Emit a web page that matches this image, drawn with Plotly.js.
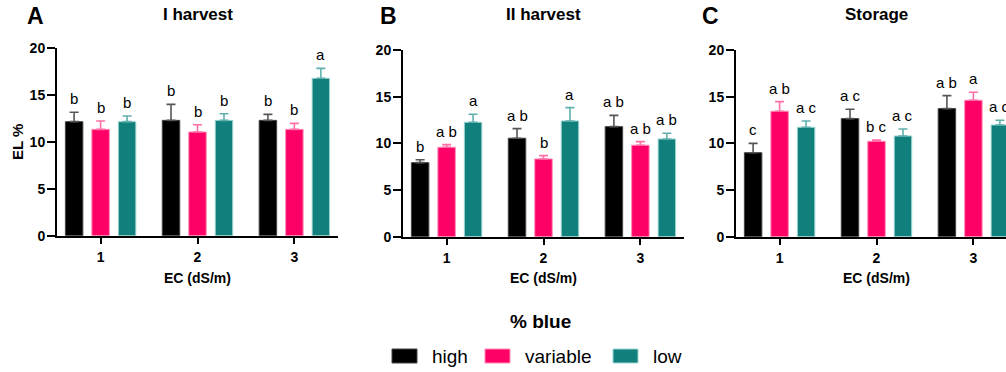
<!DOCTYPE html>
<html>
<head>
<meta charset="utf-8">
<script src="https://cdn.plot.ly/plotly-3.0.1.min.js"></script>
<style>
html,body{margin:0;padding:0;overflow:hidden;background:#fff;width:1006px;height:372px;}
#chart{width:1040px;height:372px;}
</style>
</head>
<body>
<div id="chart"></div>
<script>
// ---------- DATA ----------
const categories = ['1', '2', '3'];
const seriesNames = ['high', 'variable', 'low'];
const panelTitles = ['I harvest', 'II harvest', 'Storage'];
const panelLetters = ['A', 'B', 'C'];

// Panel A: I harvest
const harvestI_high = [12.15, 12.29, 12.29];
const harvestI_highErr = [1.0, 1.7, 0.64];
const harvestI_variable = [11.33, 11.05, 11.33];
const harvestI_variableErr = [0.89, 0.78, 0.64];
const harvestI_low = [12.15, 12.29, 16.77];
const harvestI_lowErr = [0.6, 0.7, 1.06];
const harvestI_highLetters = ['b', 'b', 'b'];
const harvestI_variableLetters = ['b', 'b', 'b'];
const harvestI_lowLetters = ['b', 'b', 'a'];

// Panel B: II harvest
const harvestII_high = [7.93, 10.55, 11.79];
const harvestII_highErr = [0.32, 1.03, 1.21];
const harvestII_variable = [9.58, 8.33, 9.8];
const harvestII_variableErr = [0.28, 0.35, 0.38];
const harvestII_low = [12.26, 12.4, 10.47];
const harvestII_lowErr = [0.86, 1.43, 0.61];
const harvestII_highLetters = ['b', 'a b', 'a b'];
const harvestII_variableLetters = ['a b', 'b', 'a b'];
const harvestII_lowLetters = ['a', 'a', 'a b'];

// Panel C: Storage
const storage_high = [9.0, 12.65, 13.72];
const storage_highErr = [1.0, 1.0, 1.39];
const storage_variable = [13.44, 10.22, 14.62];
const storage_variableErr = [1.03, 0.14, 0.85];
const storage_low = [11.72, 10.79, 11.97];
const storage_lowErr = [0.68, 0.75, 0.5];
const storage_highLetters = ['c', 'a c', 'a b'];
const storage_variableLetters = ['a b', 'b c', 'a'];
const storage_lowLetters = ['a c', 'a c', 'a c'];

// ---------- STYLE ----------
const W = 1040, H = 372;
const FONT = 'Liberation Sans, Arial, Helvetica, sans-serif';
const barColors = ['#000000', '#FF0066', '#11807D'];
const errColors = ['#555555', '#FF6FA6', '#5FB0AD'];
const lineColors = ['#444444', '#FF8CB8', '#9ED6D3'];
const BARGAP = 0.18, GROUPGAP = 0.34;

const panels = [
  {vals: [harvestI_high, harvestI_variable, harvestI_low],
   errs: [harvestI_highErr, harvestI_variableErr, harvestI_lowErr],
   lets: [harvestI_highLetters, harvestI_variableLetters, harvestI_lowLetters],
   px: [57, 338], py: [48, 235.7], letterX: 35, titleX: 197.5},
  {vals: [harvestII_high, harvestII_variable, harvestII_low],
   errs: [harvestII_highErr, harvestII_variableErr, harvestII_lowErr],
   lets: [harvestII_highLetters, harvestII_variableLetters, harvestII_lowLetters],
   px: [403, 684], py: [50, 236.7], letterX: 388, titleX: 543},
  {vals: [storage_high, storage_variable, storage_low],
   errs: [storage_highErr, storage_variableErr, storage_lowErr],
   lets: [storage_highLetters, storage_variableLetters, storage_lowLetters],
   px: [736, 1017], py: [50, 236.7], letterX: 710, titleX: 876}
];

const fx = p => p / W;
const fy = p => 1 - p / H;

const traces = [];
const annotations = [];
const shapes = [];
const layout = {
  width: W, height: H,
  margin: {l: 0, r: 0, t: 0, b: 0},
  paper_bgcolor: '#ffffff', plot_bgcolor: '#ffffff',
  barmode: 'group', bargap: BARGAP, bargroupgap: GROUPGAP,
  showlegend: false,
  font: {family: FONT, color: '#000'},
  annotations: annotations, shapes: shapes
};

panels.forEach((pn, k) => {
  const xa = k === 0 ? 'x' : 'x' + (k + 1);
  const ya = k === 0 ? 'y' : 'y' + (k + 1);
  const xkey = k === 0 ? 'xaxis' : 'xaxis' + (k + 1);
  const ykey = k === 0 ? 'yaxis' : 'yaxis' + (k + 1);
  layout[xkey] = {
    domain: [fx(pn.px[0]), fx(pn.px[1])], anchor: ya,
    type: 'category', range: [-0.45, 2.45], fixedrange: true,
    showline: true, linewidth: 2, linecolor: '#000',
    ticks: 'outside', ticklen: 6, tickwidth: 2, tickcolor: '#000',
    showgrid: false, zeroline: false, ticklabelstandoff: 1,
    tickfont: {family: FONT, size: 14, weight: 'bold', color: '#000'}
  };
  layout[ykey] = {
    domain: [fy(pn.py[1]), fy(pn.py[0])], anchor: xa,
    range: [0, 20], dtick: 5, tick0: 0, fixedrange: true,
    showline: true, linewidth: 2, linecolor: '#000',
    ticks: 'outside', ticklen: 8, tickwidth: 2, tickcolor: '#000',
    showgrid: false, zeroline: false, ticklabelstandoff: -1,
    tickfont: {family: FONT, size: 14, weight: 'bold', color: '#000'}
  };
  for (let j = 0; j < 3; j++) {
    traces.push({
      type: 'bar', name: seriesNames[j], x: categories, y: pn.vals[j],
      xaxis: xa, yaxis: ya,
      marker: {color: barColors[j], line: {color: lineColors[j], width: 1}},
      error_y: {type: 'data', symmetric: false, array: pn.errs[j],
                arrayminus: pn.errs[j].map(() => 0),
                color: errColors[j], thickness: 1.6, width: 4.5},
      hoverinfo: 'skip'
    });
    const slot = (1 - BARGAP) / 3;
    for (let i = 0; i < categories.length; i++) {
      annotations.push({
        xref: xa, yref: ya, x: i + (j - 1) * slot, y: pn.vals[j][i] + pn.errs[j][i],
        text: pn.lets[j][i], showarrow: false, xanchor: 'center', yanchor: 'bottom',
        yshift: 3, font: {family: FONT, size: 15, color: '#000'}
      });
    }
  }
  // panel letter
  annotations.push({xref: 'paper', yref: 'paper', x: fx(pn.letterX), y: fy(16.5),
    text: panelLetters[k], showarrow: false, xanchor: 'center', yanchor: 'middle',
    font: {family: FONT, size: 23, weight: 'bold', color: '#000'}});
  // panel title
  annotations.push({xref: 'paper', yref: 'paper', x: fx(pn.titleX), y: fy(15),
    text: panelTitles[k], showarrow: false, xanchor: 'center', yanchor: 'middle',
    font: {family: FONT, size: 17, weight: 'bold', color: '#000'}});
  // x axis title
  annotations.push({xref: 'paper', yref: 'paper', x: fx((pn.px[0] + pn.px[1]) / 2), y: fy(278),
    text: 'EC (dS/m)', showarrow: false, xanchor: 'center', yanchor: 'middle',
    font: {family: FONT, size: 14, weight: 'bold', color: '#000'}});
});

// y axis title (panel A only)
annotations.push({xref: 'paper', yref: 'paper', x: fx(17), y: fy(142),
  text: 'EL %', showarrow: false, textangle: -90, xanchor: 'center', yanchor: 'middle',
  font: {family: FONT, size: 15, weight: 'bold', color: '#000'}});

// legend
annotations.push({xref: 'paper', yref: 'paper', x: fx(540), y: fy(321),
  text: '% blue', showarrow: false, xanchor: 'center', yanchor: 'middle',
  font: {family: FONT, size: 19, weight: 'bold', color: '#000'}});
const swatchX = [392, 485, 613];
seriesNames.forEach((nm, j) => {
  shapes.push({type: 'rect', xref: 'paper', yref: 'paper',
    x0: fx(swatchX[j]), x1: fx(swatchX[j] + 25), y0: fy(363), y1: fy(349),
    fillcolor: barColors[j], line: {color: lineColors[j], width: 1}});
  annotations.push({xref: 'paper', yref: 'paper', x: fx(swatchX[j] + 38), y: fy(356),
    text: nm, showarrow: false, xanchor: 'left', yanchor: 'middle',
    font: {family: FONT, size: 19, color: '#000'}});
});

Plotly.newPlot('chart', traces, layout, {staticPlot: true, displayModeBar: false, responsive: false});
</script>
</body>
</html>
